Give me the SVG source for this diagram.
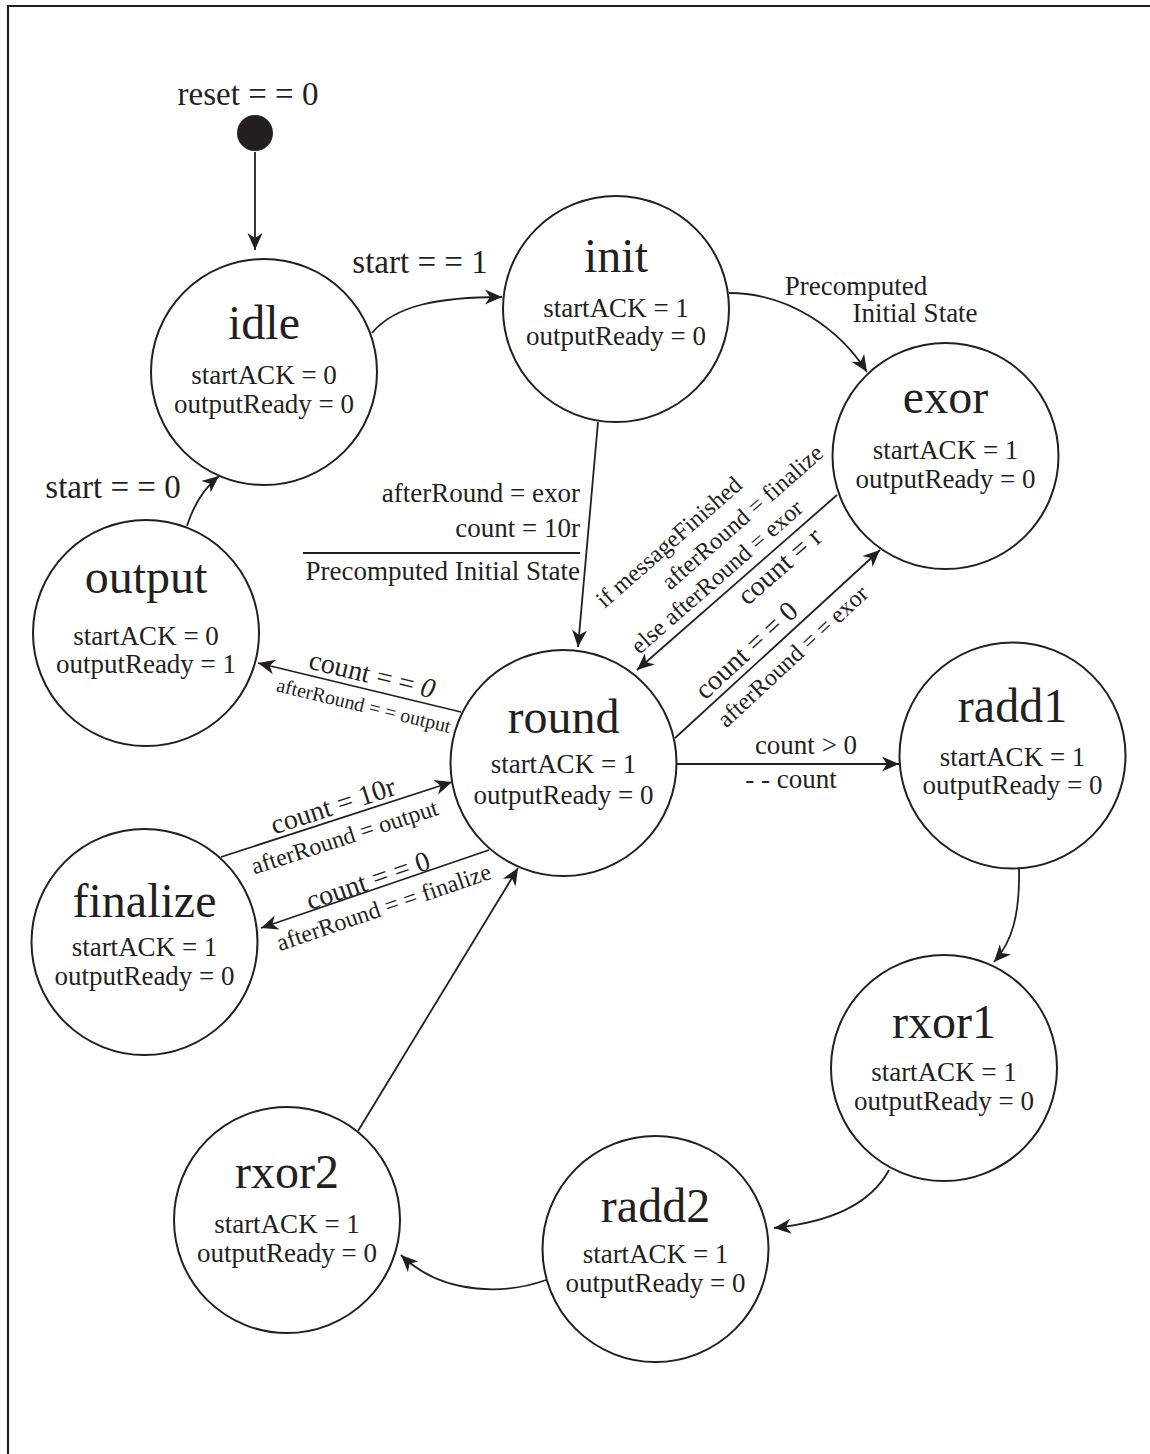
<svg xmlns="http://www.w3.org/2000/svg" width="1150" height="1454" viewBox="0 0 1150 1454">
<style>
text{font-family:"Liberation Serif","Times New Roman",serif;fill:#231f20}
.t{font-size:48px;text-anchor:middle}
.p{font-size:27px;text-anchor:middle}
.l{font-size:33px;text-anchor:middle}
.m{font-size:28px;text-anchor:middle}
.s{font-size:24px;text-anchor:middle}
.xs{font-size:20px;text-anchor:middle}
.st{fill:#fff;stroke:#231f20;stroke-width:2}
.e{fill:none;stroke:#231f20;stroke-width:1.8}
</style>
<defs>
<marker id="ah" viewBox="-18 -9 19 18" refX="0" refY="0" markerWidth="19" markerHeight="18" markerUnits="userSpaceOnUse" orient="auto">
<path d="M0,0 L-17,-7.5 L-12,0 L-17,7.5 Z" fill="#231f20"/>
</marker>
</defs>
<rect width="1150" height="1454" fill="#fff"/>
<g id="frame">
<line x1="7" y1="6" x2="1150" y2="6" stroke="#231f20" stroke-width="2.2"/>
<line x1="8" y1="5" x2="8" y2="1454" stroke="#231f20" stroke-width="2.2"/>
</g>
<g id="connectors">
<line class="e" x1="255" y1="152" x2="255" y2="250" marker-end="url(#ah)"/>
<path class="e" d="M372,333 C395,305 440,297 502,297" marker-end="url(#ah)"/>
<path class="e" d="M729,293 C790,293 840,330 867,372" marker-end="url(#ah)"/>
<line class="e" x1="598" y1="422" x2="578" y2="647" marker-end="url(#ah)"/>
<line class="e" x1="837" y1="495" x2="637" y2="670" marker-end="url(#ah)"/>
<line class="e" x1="675" y1="738" x2="880" y2="550" marker-end="url(#ah)"/>
<line class="e" x1="461" y1="712" x2="258" y2="663" marker-end="url(#ah)"/>
<path class="e" d="M187,526 Q197,494 219,476" marker-end="url(#ah)"/>
<line class="e" x1="221" y1="857" x2="452" y2="782" marker-end="url(#ah)"/>
<line class="e" x1="489" y1="850" x2="261" y2="928" marker-end="url(#ah)"/>
<line class="e" x1="677" y1="764" x2="899" y2="764" marker-end="url(#ah)"/>
<path class="e" d="M1019,868 C1020,915 1012,942 994,962" marker-end="url(#ah)"/>
<path class="e" d="M889,1170 C870,1205 830,1222 774,1228" marker-end="url(#ah)"/>
<path class="e" d="M546,1280 C510,1293 445,1298 401,1255" marker-end="url(#ah)"/>
<line class="e" x1="358" y1="1131" x2="518" y2="868" marker-end="url(#ah)"/>
<line x1="303" y1="553" x2="580" y2="553" stroke="#231f20" stroke-width="1.8"/>
</g>
<g id="labels">
<text class="l" x="248" y="105">reset = = 0</text>
<text class="l" x="420" y="273">start = = 1</text>
<text class="l" x="113" y="498">start = = 0</text>
<text class="p" x="856" y="295">Precomputed</text>
<text class="p" x="915" y="322">Initial State</text>
<text class="p" x="580" y="502" style="text-anchor:end">afterRound = exor</text>
<text class="p" x="580" y="537" style="text-anchor:end">count = 10r</text>
<text class="p" x="580" y="580" style="text-anchor:end">Precomputed Initial State</text>
<text class="s" transform="translate(674,548) rotate(-41.2)">if messageFinished</text>
<text class="s" transform="translate(747.5,523) rotate(-41.2)">afterRound = finalize</text>
<text class="s" transform="translate(722,582.6) rotate(-41.2)">else afterRound = exor</text>
<text class="m" transform="translate(785.6,573) rotate(-41.2)">count = r</text>
<text class="m" transform="translate(752.4,657) rotate(-42.8)">count = = 0</text>
<text class="s" transform="translate(798,662) rotate(-42.8)">afterRound = = exor</text>
<text class="m" transform="translate(370,683.4) rotate(13.6)">count = = <tspan font-style="italic">0</tspan></text>
<text class="xs" transform="translate(362.2,712) rotate(13.6)">afterRound = = output</text>
<text class="m" transform="translate(335.8,814.4) rotate(-18)">count = 10r</text>
<text class="s" transform="translate(347,844.5) rotate(-18)">afterRound = output</text>
<text class="m" transform="translate(371,889.4) rotate(-18.9)">count = = 0</text>
<text class="s" transform="translate(386.3,914.7) rotate(-18.9)">afterRound = = finalize</text>
<text class="p" x="806" y="754">count &gt; 0</text>
<text class="p" x="791" y="788">- - count</text>
</g>
<g id="start-point"><circle cx="255" cy="133" r="18" fill="#231f20"/></g>
<g id="idle"><circle class="st" cx="264" cy="372" r="113"/><text class="t" x="264" y="339">idle</text><text class="p" x="264" y="384">startACK = 0</text><text class="p" x="264" y="413">outputReady = 0</text></g>
<g id="init"><circle class="st" cx="616" cy="309" r="113"/><text class="t" x="616" y="272">init</text><text class="p" x="616" y="317">startACK = 1</text><text class="p" x="616" y="345">outputReady = 0</text></g>
<g id="exor"><circle class="st" cx="945.5" cy="456" r="113"/><text class="t" x="945.5" y="413">exor</text><text class="p" x="945.5" y="459">startACK = 1</text><text class="p" x="945.5" y="488">outputReady = 0</text></g>
<g id="output"><circle class="st" cx="146" cy="633" r="113"/><text class="t" x="146" y="593">output</text><text class="p" x="146" y="645">startACK = 0</text><text class="p" x="146" y="673">outputReady = 1</text></g>
<g id="round"><circle class="st" cx="563.5" cy="763" r="113"/><text class="t" x="563.5" y="733">round</text><text class="p" x="563.5" y="773">startACK = 1</text><text class="p" x="563.5" y="804">outputReady = 0</text></g>
<g id="radd1"><circle class="st" cx="1012.5" cy="755.5" r="113"/><text class="t" x="1012.5" y="722">radd1</text><text class="p" x="1012.5" y="766">startACK = 1</text><text class="p" x="1012.5" y="794">outputReady = 0</text></g>
<g id="finalize"><circle class="st" cx="144.5" cy="942" r="113"/><text class="t" x="144.5" y="917">finalize</text><text class="p" x="144.5" y="956">startACK = 1</text><text class="p" x="144.5" y="985">outputReady = 0</text></g>
<g id="rxor1"><circle class="st" cx="944" cy="1068" r="113"/><text class="t" x="944" y="1038">rxor1</text><text class="p" x="944" y="1081">startACK = 1</text><text class="p" x="944" y="1110">outputReady = 0</text></g>
<g id="radd2"><circle class="st" cx="655.5" cy="1249" r="113"/><text class="t" x="655.5" y="1222">radd2</text><text class="p" x="655.5" y="1263">startACK = 1</text><text class="p" x="655.5" y="1292">outputReady = 0</text></g>
<g id="rxor2"><circle class="st" cx="287" cy="1220" r="113"/><text class="t" x="287" y="1188">rxor2</text><text class="p" x="287" y="1233">startACK = 1</text><text class="p" x="287" y="1262">outputReady = 0</text></g>
</svg>
